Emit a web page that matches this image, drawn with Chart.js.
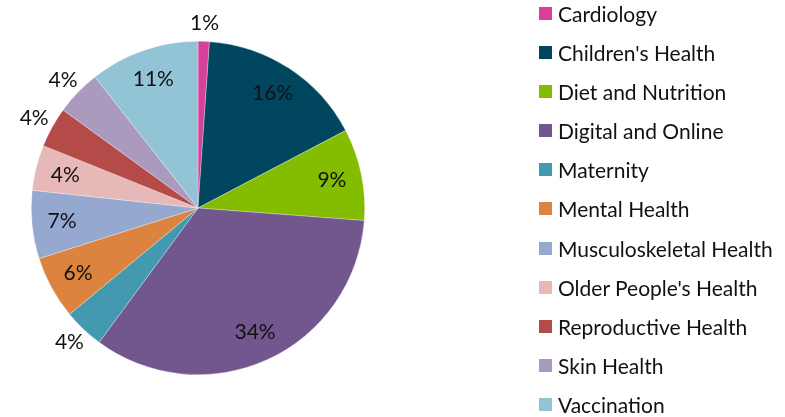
<!DOCTYPE html>
<html>
<head>
<meta charset="utf-8">
<script src="https://cdn.jsdelivr.net/npm/chart.js@4.4.1/dist/chart.umd.min.js"></script>
<style>
    html, body { margin: 0; padding: 0; background: #fff; }
    #wrap { position: relative; width: 785px; height: 417px; overflow: hidden; }
    #topic_chart { position: absolute; left: 0; top: 0; }
    #topic_legend { position: absolute; left: 539px; top: -6.6px; margin: 0; padding: 0; list-style: none;
        font-family: Lato, sans-serif; font-size: 21px; color: #111; }
    #topic_legend li { height: 39.2px; display: flex; align-items: center; white-space: nowrap; }
    #topic_legend li span.box { width: 13px; height: 13px; margin-right: 6px; display: inline-block; }
</style>
</head>
<body>
<div id="wrap">
    <canvas id="topic_chart" width="785" height="417"></canvas>
    <ul id="topic_legend"></ul>
</div>
<script>
const topics = [
    'Cardiology', "Children's Health", 'Diet and Nutrition', 'Digital and Online', 'Maternity',
    'Mental Health', 'Musculoskeletal Health', "Older People's Health", 'Reproductive Health',
    'Skin Health', 'Vaccination'
];

// share of items per topic (%)
const topicShare = [1.1, 16.2, 8.9, 33.9, 3.9, 6.1, 6.6, 4.4, 3.9, 4.4, 10.6];

const topicColors = [
    '#D6409A', '#00465F', '#84BD00', '#72578E', '#4399AF',
    '#DC843F', '#95A9D0', '#E6B8B7', '#B54B48', '#A99ABE', '#93C4D6'
];

// labels that Excel pushed outside the pie
const outsideLabels = ['Cardiology', 'Maternity', 'Reproductive Health', 'Skin Health'];

const pieLabels = {
    id: 'pieLabels',
    afterDatasetsDraw(chart) {
        const ctx = chart.ctx;
        const data = chart.data.datasets[0].data;
        const total = data.reduce((a, b) => a + b, 0);
        ctx.save();
        ctx.font = '21px Lato, sans-serif';
        ctx.fillStyle = '#111';
        ctx.textAlign = 'center';
        ctx.textBaseline = 'middle';
        chart.getDatasetMeta(0).data.forEach((arc, i) => {
            const p = arc.getProps(['x', 'y', 'startAngle', 'endAngle', 'outerRadius'], true);
            const mid = (p.startAngle + p.endAngle) / 2;
            const cos = Math.cos(mid), sin = Math.sin(mid);
            const text = Math.round(data[i] / total * 100) + '%';
            let x, y;
            if (outsideLabels.includes(chart.data.labels[i])) {
                // label box sits just off the rim
                const halfW = ctx.measureText(text).width / 2;
                const r = p.outerRadius + 6;
                x = p.x + cos * r + cos * halfW;
                y = p.y + sin * r + sin * 12;
            } else {
                const r = p.outerRadius * 0.82;
                x = p.x + cos * r;
                y = p.y + sin * r;
            }
            ctx.fillText(text, x, y);
        });
        ctx.restore();
    }
};

const chart = new Chart(document.getElementById('topic_chart'), {
    type: 'pie',
    data: {
        labels: topics,
        datasets: [{
            data: topicShare,
            backgroundColor: topicColors,
            borderColor: 'rgba(255, 255, 255, 0.6)',
            borderWidth: 0.5
        }]
    },
    options: {
        responsive: false,
        animation: false,
        layout: {
            padding: { left: 31, right: 420, top: 41, bottom: 42 }
        },
        plugins: {
            legend: { display: false },
            tooltip: { enabled: false }
        }
    },
    plugins: [pieLabels]
});

// html legend built from the chart's own legend items
const legendList = document.getElementById('topic_legend');
chart.options.plugins.legend.labels.generateLabels(chart).forEach(item => {
    const li = document.createElement('li');
    const box = document.createElement('span');
    box.className = 'box';
    box.style.background = item.fillStyle;
    li.appendChild(box);
    li.appendChild(document.createTextNode(item.text));
    legendList.appendChild(li);
});
</script>
</body>
</html>
